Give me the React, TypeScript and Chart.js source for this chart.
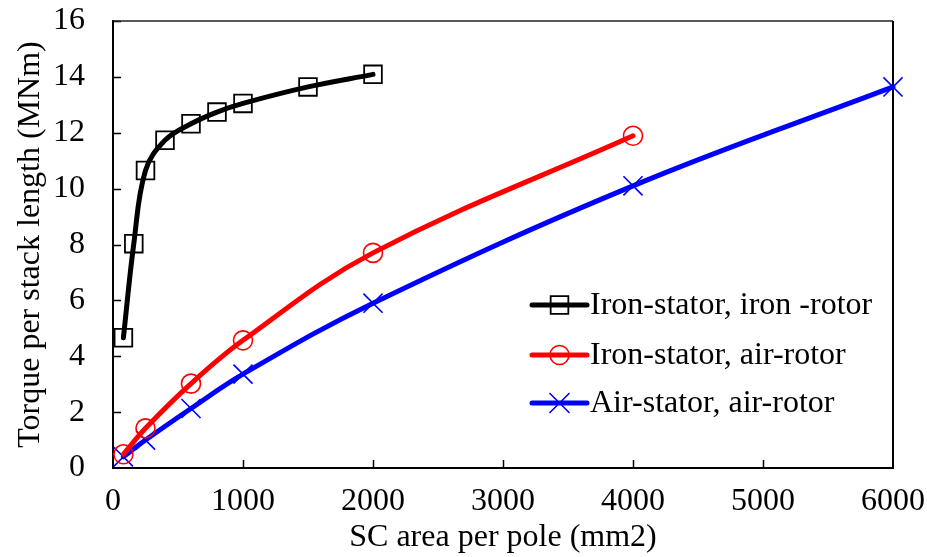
import { useEffect, useRef } from "react";
import { Chart, registerables } from "chart.js";
import { drawPoint } from "chart.js/helpers";

Chart.register(...registerables);

const FONT_FAMILY = "'Liberation Serif', 'Times New Roman', Times, serif";
const FONT_SIZE = 32;

// SC area per pole (mm2) and torque per stack length (MNm) for each machine type
const ironIronArea = [80, 160, 250, 400, 600, 800, 1000, 1500, 2000];
const ironIronTorque = [4.66, 8.03, 10.65, 11.73, 12.32, 12.74, 13.05, 13.64, 14.09];

const ironAirArea = [80, 250, 600, 1000, 2000, 4000];
const ironAirTorque = [0.49, 1.42, 3.02, 4.57, 7.7, 11.89];

const airAirArea = [80, 250, 600, 1000, 2000, 4000, 6000];
const airAirTorque = [0.4, 1.0, 2.13, 3.36, 5.9, 10.1, 13.64];

const seriesLabels = [
  "Iron-stator, iron -rotor",
  "Iron-stator, air-rotor",
  "Air-stator, air-rotor",
];

const xAxisTitle = "SC area per pole (mm2)";
const yAxisTitle = "Torque per stack length (MNm)";

const toPoints = (xs: number[], ys: number[]) => xs.map((x, i) => ({ x, y: ys[i] }));

// Inward tick marks plus the top and right frame lines
const frameTicks = {
  id: "frameTicks",
  beforeDatasetsDraw(chart: any) {
    const { ctx, chartArea: a, scales } = chart;
    const xs = scales.x;
    const ys = scales.y;
    ctx.save();
    ctx.strokeStyle = "#000";
    ctx.lineWidth = 1.5;
    ctx.beginPath();
    xs.ticks.forEach((t: any) => {
      const px = Math.round(xs.getPixelForValue(t.value)) + 0.5;
      if (px <= a.left + 2 || px >= a.right - 2) return;
      ctx.moveTo(px, a.bottom);
      ctx.lineTo(px, a.bottom - 8);
    });
    ys.ticks.forEach((t: any) => {
      const py = Math.round(ys.getPixelForValue(t.value)) + 0.5;
      if (py >= a.bottom - 2) return;
      ctx.moveTo(a.left, py);
      ctx.lineTo(a.left + 8, py);
    });
    ctx.stroke();
    // top edge
    ctx.strokeStyle = "#222";
    ctx.lineWidth = 1.3;
    ctx.beginPath();
    ctx.moveTo(a.left, a.top);
    ctx.lineTo(a.right, a.top);
    ctx.stroke();
    // right edge
    ctx.strokeStyle = "#000";
    ctx.lineWidth = 2;
    ctx.beginPath();
    ctx.moveTo(a.right, a.top);
    ctx.lineTo(a.right, a.bottom);
    ctx.stroke();
    ctx.restore();
  },
};

// Legend with a line segment and a marker for every series, inside the plot
const lineMarkerLegend = {
  id: "lineMarkerLegend",
  afterDraw(chart: any) {
    const { ctx } = chart;
    const lineStart = 532;
    const lineEnd = 587;
    const textX = 590;
    const rows = [305, 355, 403];
    chart.data.datasets.forEach((ds: any, i: number) => {
      const y = rows[i];
      ctx.save();
      ctx.strokeStyle = ds.borderColor;
      ctx.lineWidth = ds.borderWidth;
      ctx.lineCap = "round";
      ctx.beginPath();
      ctx.moveTo(lineStart, y);
      ctx.lineTo(lineEnd, y);
      ctx.stroke();
      ctx.strokeStyle = ds.pointBorderColor;
      ctx.fillStyle = ds.pointBackgroundColor;
      ctx.lineWidth = ds.pointBorderWidth;
      drawPoint(
        ctx,
        { pointStyle: ds.pointStyle, radius: ds.pointRadius, rotation: 0, borderWidth: ds.pointBorderWidth },
        (lineStart + lineEnd) / 2,
        y
      );
      ctx.fillStyle = "#000";
      ctx.font = `${FONT_SIZE}px ${FONT_FAMILY}`;
      ctx.textAlign = "left";
      ctx.textBaseline = "middle";
      ctx.fillText(ds.label, textX, y + 1);
      ctx.restore();
    });
  },
};

const clearScalePadding = (s: any) => {
  s.paddingTop = 0;
  s.paddingBottom = 0;
  s.paddingLeft = 0;
  s.paddingRight = 0;
};

export default function App() {
  const canvasRef = useRef<HTMLCanvasElement | null>(null);

  useEffect(() => {
    if (!canvasRef.current) return;
    const common = {
      borderWidth: 5,
      borderCapStyle: "round",
      borderJoinStyle: "round",
      tension: 0.38,
      pointBackgroundColor: "rgba(0,0,0,0)",
      pointBorderWidth: 1.6,
      pointHoverRadius: 0,
      clip: false,
      fill: false,
    };
    const tickFont = { family: FONT_FAMILY, size: FONT_SIZE };
    const chart = new Chart(canvasRef.current, {
      type: "line",
      data: {
        datasets: [
          {
            ...common,
            label: seriesLabels[0],
            data: toPoints(ironIronArea, ironIronTorque),
            borderColor: "#000000",
            pointBorderColor: "#000000",
            pointStyle: "rect",
            pointRadius: 12.5,
            pointBorderWidth: 1.8,
          },
          {
            ...common,
            label: seriesLabels[1],
            data: toPoints(ironAirArea, ironAirTorque),
            borderColor: "#ff0000",
            pointBorderColor: "#ff0000",
            pointStyle: "circle",
            pointRadius: 9.5,
          },
          {
            ...common,
            label: seriesLabels[2],
            data: toPoints(airAirArea, airAirTorque),
            borderColor: "#0000ff",
            pointBorderColor: "#0000ff",
            pointStyle: "crossRot",
            pointRadius: 13.5,
          },
        ],
      } as any,
      options: {
        responsive: false,
        animation: false,
        devicePixelRatio: 1,
        layout: { padding: { left: 0, top: 21, right: 34, bottom: 0 } },
        plugins: {
          legend: { display: false },
          tooltip: { enabled: false },
        },
        scales: {
          x: {
            type: "linear",
            min: 0,
            max: 6000,
            ticks: {
              stepSize: 1000,
              padding: 14,
              color: "#000",
              font: tickFont,
              maxRotation: 0,
              callback: (v: any) => String(v),
            },
            grid: { display: false, drawTicks: false },
            border: { display: true, color: "#000", width: 2 },
            title: {
              display: true,
              text: xAxisTitle,
              color: "#000",
              font: tickFont,
              padding: { top: 0, bottom: 0 },
            },
            afterFit: (s: any) => {
              s.height = 89;
              clearScalePadding(s);
            },
          },
          y: {
            type: "linear",
            min: 0,
            max: 16,
            ticks: {
              stepSize: 2,
              padding: 28,
              color: "#000",
              font: tickFont,
              callback: (v: any) => String(v),
            },
            grid: { display: false, drawTicks: false },
            border: { display: true, color: "#000", width: 2 },
            title: {
              display: true,
              text: yAxisTitle,
              color: "#000",
              font: tickFont,
              padding: { top: 11, bottom: 0 },
            },
            afterFit: (s: any) => {
              s.width = 113;
              clearScalePadding(s);
            },
          },
        },
      } as any,
      plugins: [frameTicks, lineMarkerLegend],
    });
    return () => chart.destroy();
  }, []);

  return (
    <div style={{ position: "absolute", left: 0, top: 0, width: 927, height: 557, background: "#fff" }}>
      <canvas ref={canvasRef} width={927} height={557} style={{ display: "block" }} />
    </div>
  );
}
